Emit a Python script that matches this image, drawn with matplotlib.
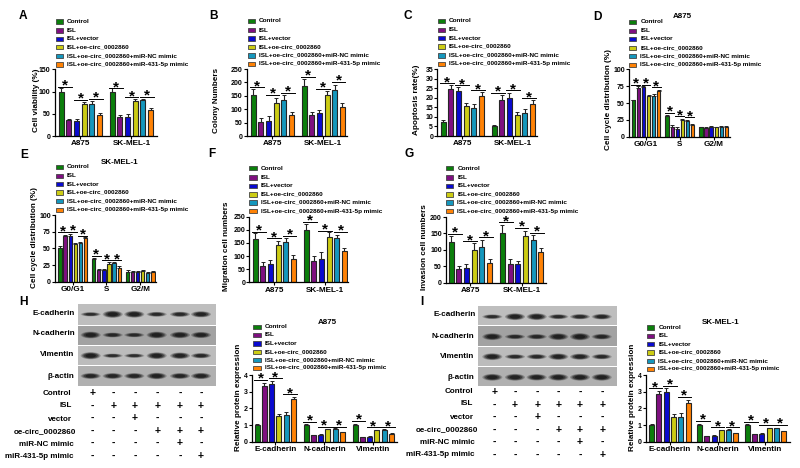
#!/usr/bin/env python3
"""
Multi-panel bar chart figure (A-I) with western blot strips.
"""

import matplotlib
matplotlib.use('Agg')
import matplotlib.pyplot as plt
from matplotlib.patches import Rectangle, Ellipse

plt.rcParams['font.family'] = ['Liberation Sans', 'DejaVu Sans']
plt.rcParams['font.weight'] = 'bold'

W, H = 800, 468

# Legend / series
series = ['Control', 'ISL', 'ISL+vector', 'ISL+oe-circ_0002860',
          'ISL+oe-circ_0002860+miR-NC mimic', 'ISL+oe-circ_0002860+miR-431-5p mimic']
colors = ['#0b7f0b', '#7f0f80', '#0a0ad0', '#cccc14', '#1597bd', '#ff8205']

cells = ['A875', 'SK-MEL-1']
phases = ['G0/G1', 'S', 'G2/M']
proteins = ['E-cadherin', 'N-cadherin', 'Vimentin']

# Values, one row per x group
a_vals = [[100, 36, 34, 73, 73, 47], [100, 43, 43, 79, 80, 59]]
a_errs = [[7, 3, 4, 4, 5, 4], [7, 5, 6, 5, 4, 3]]
a_stars = [111, 81, 83, 107, 87, 88]

b_vals = [[153, 53, 57, 123, 133, 78], [188, 78, 85, 152, 170, 108]]
b_errs = [[22, 16, 16, 20, 20, 10], [25, 10, 12, 15, 20, 14]]
b_stars = [182, 154, 162, 220, 176, 202]

c_vals = [[7.2, 24.5, 23.5, 15.5, 14.5, 21], [5, 19, 20, 11, 12, 16.5]]
c_errs = [[1, 2.2, 2, 1.5, 2, 2], [1, 2.5, 2.5, 1.3, 2, 2.2]]
c_stars = [27.6, 26.5, 23.8, 22.4, 23.8, 19.6]

d_vals = [[54, 72, 73, 60, 61, 68], [31, 15, 12, 25, 24, 17], [14, 13, 14, 14, 15, 14]]
d_errs = [[1, 3, 2, 1.5, 2, 2], [1.5, 2, 2, 1.5, 1, 2], [1, 1.5, 1.5, 1, 1.5, 1.5]]
d_stars = [77, 77, 73, 35, 30, 29]

e_vals = [[51, 68, 69, 57, 58, 65], [34, 18, 17, 27, 28, 21], [15, 14, 14, 16, 13, 14]]
e_errs = [[2, 1.5, 2, 1.5, 2, 1.5], [2, 1, 1.5, 2, 1.5, 2], [2, 2, 2, 1.5, 1, 2]]
e_stars = [74, 75, 69, 39, 32, 32]

f_vals = [[165, 63, 70, 142, 152, 88], [198, 83, 87, 173, 167, 119]]
f_errs = [[22, 15, 15, 15, 17, 15], [25, 17, 28, 18, 15, 10]]
f_stars = [193, 167, 178, 231, 197, 193]

g_vals = [[125, 41, 45, 100, 110, 60], [152, 58, 57, 143, 131, 92]]
g_errs = [[16, 10, 12, 20, 20, 12], [25, 15, 10, 15, 13, 15]]
g_stars = [149, 126, 138, 184, 168, 151]

h_vals = [[1, 3.35, 3.47, 1.52, 1.62, 2.55], [1, .38, .42, .75, .77, .57], [1, .27, .3, .68, .7, .47]]
h_errs = [[.04, .2, .2, .17, .17, .15], [.04, .04, .05, .03, .04, .04], [.05, .04, .05, .04, .04, .03]]
h_stars = [3.7, 3.8, 2.84, 1.2, .9, .9, 1.24, .86, .86]

i_vals = [[1, 2.87, 3, 1.5, 1.5, 2.35], [1, .33, .35, .68, .72, .5], [1, .45, .47, .8, .82, .64]]
i_errs = [[.05, .2, .2, .15, .2, .15], [.07, .03, .04, .04, .04, .03], [.05, .04, .04, .04, .03, .03]]
i_stars = [3.2, 3.36, 2.7, 1.24, .86, .86, 1.2, 1.0, 1.0]

# Bracket bar pairs inside one group
pairs = [(0, 1), (2, 3), (4, 5)]

# Blot tables
row_names = ['Control', 'ISL', 'vector', 'oe-circ_0002860', 'miR-NC mimic', 'miR-431-5p mimic']
signs = ['+-----', '-+++++', '--+---', '---+++', '----+-', '-----+']
blot_names = ['E-cadherin', 'N-cadherin', 'Vimentin', 'β-actin']
blot_grey = ['#bebebe', '#a2a2a2', '#bcbcbc', '#b0b0b0']
h_bands = [[.55, 1, .95, .65, .7, .85], [.95, .65, .6, .95, .9, .85],
           [1, .55, .55, .95, .9, .7], [.8, .8, .8, .9, .8, .85]]
i_bands = [[.6, .95, .95, .65, .7, .75], [.95, .65, .7, .95, 1, .75],
           [.95, .65, .7, .9, .85, .7], [.95, .95, .9, .95, .95, .95]]

fig = plt.figure(figsize=(W / 100, H / 100), dpi=100, facecolor='white')

# Full figure overlay in image pixels, for free text and the blots
ov = fig.add_axes([0, 0, 1, 1], zorder=5)
ov.set_xlim(0, W)
ov.set_ylim(H, 0)
ov.axis('off')
ov.patch.set_alpha(0)


def bar_panel(vals, errs, stars, names, box, x0, step, gap, bw, ticks, ylabel, label_x, label_y,
              leg_x, leg_ys, title=None, title_xy=None):
    left, right, top, bottom = box
    ax = fig.add_axes([left / W, 1 - bottom / H, (right - left) / W, (bottom - top) / H])
    ax.set_xlim(left, right)
    ax.set_ylim(0, ticks[-1])
    ax.patch.set_alpha(0)
    for g, (row, err) in enumerate(zip(vals, errs)):
        xs = [x0 + g * gap + i * step for i in range(6)]
        ax.bar(xs, row, width=bw, color=colors, edgecolor='#262626', linewidth=0.8, zorder=2)
        ax.errorbar(xs, row, yerr=[[0] * 6, err], fmt='none', ecolor='#222222',
                    elinewidth=0.8, capsize=1.2, capthick=0.7, zorder=1)
    n = 0
    for g in range(len(vals)):
        for a, b in pairs:
            if n >= len(stars):
                break
            xa = x0 + g * gap + a * step - bw * 0.6
            xb = x0 + g * gap + b * step + bw * 0.6
            ax.plot([xa, xb], [stars[n], stars[n]], color='black', lw=0.7, clip_on=False)
            ax.annotate('*', xy=((xa + xb) / 2, stars[n]), xytext=(0, -4.2), textcoords='offset points',
                        ha='center', va='bottom', fontsize=11, annotation_clip=False)
            n += 1
    ax.set_yticks(ticks)
    ax.set_xticks([x0 + g * gap + 2.5 * step for g in range(len(vals))])
    ax.set_xticklabels(names, fontsize=5.9)
    ax.tick_params(axis='y', labelsize=5.0, length=2, width=0.8, pad=1)
    ax.tick_params(axis='x', length=2, width=0.8, pad=1.2)
    for s in ['top', 'right']:
        ax.spines[s].set_visible(False)
    for s in ['left', 'bottom']:
        ax.spines[s].set_linewidth(0.9)
    ov.text(label_x, label_y, ylabel, rotation=90, ha='center', va='center', fontsize=5.9)
    for name, c, y in zip(series, colors, leg_ys):
        ov.add_patch(Rectangle((leg_x, y - 2.2), 7.4, 4.4, facecolor=c, edgecolor='#444444', lw=0.6))
        ov.text(leg_x + 11.3, y, name, ha='left', va='center', fontsize=4.55)
    if title:
        ov.text(title_xy[0], title_xy[1], title, ha='center', va='center', fontsize=5.8)


def blot_table(strips_x, rows_y, bands, band_x, band_y, name_rx, name_y, row_rx, row_y, col_x, sign_y):
    for n, (y0, y1) in enumerate(rows_y):
        ov.add_patch(Rectangle((strips_x[0], y0), strips_x[1] - strips_x[0], y1 - y0,
                               facecolor=blot_grey[n], edgecolor='none'))
        for bx, k in zip(band_x, bands[n]):
            # soft band, stacked ellipses
            for f, al in [(1.0, .25), (.85, .35), (.7, .5), (.5, .7)]:
                ov.add_patch(Ellipse((bx, band_y[n]), 19 * f + 1, 6.5 * k * f + .6, facecolor='#151515',
                                     edgecolor='none', alpha=al * (.6 + .4 * k)))
        ov.text(name_rx[n], name_y[n], blot_names[n], ha='right', va='center', fontsize=5.9)
    for n, name in enumerate(row_names):
        ov.text(row_rx[n], row_y[n], name, ha='right', va='center', fontsize=5.8)
        for cx, s in zip(col_x, signs[n]):
            ov.text(cx, sign_y[n], s, ha='center', va='center', fontsize=7.5)


bar_panel(a_vals, a_errs, a_stars, cells, (54.7, 157, 69.3, 136), 61.3, 7.67, 51, 5, [0, 50, 100, 150],
          'Cell viability (%)', 36, 100, 55.7, [21.3, 30.3, 38.7, 47, 55.7, 64.3])
bar_panel(b_vals, b_errs, b_stars, cells, (246.7, 346.7, 69, 136), 253.3, 7.67, 50.7, 5,
          [0, 50, 100, 150, 200, 250], 'Colony Numbers', 216.7, 100, 247.7,
          [20.7, 30, 38.3, 47, 55.3, 64])
bar_panel(c_vals, c_errs, c_stars, cells, (437.3, 536.7, 69, 136), 443, 7.7, 51, 5,
          [0, 5, 10, 15, 20, 25, 30, 35], 'Apoptosis rate(%)', 416, 100, 437.7,
          [20.7, 29.7, 38, 46.3, 55.3, 64])
bar_panel(d_vals, d_errs, d_stars, phases, (629, 730, 69.3, 136.7), 633.3, 5.07, 33.8, 3.2,
          [0, 25, 50, 75, 100], 'Cell cycle distribution (%)', 608, 99.5, 629,
          [21.7, 30.7, 39, 48, 56, 64.7], 'A875', (682, 16))
bar_panel(e_vals, e_errs, e_stars, phases, (55, 156, 215, 281.7), 60, 5.07, 33.8, 3.2,
          [0, 25, 50, 75, 100], 'Cell cycle distribution (%)', 35, 238, 55.7,
          [166.7, 175.7, 184, 192.3, 201, 209.7], 'SK-MEL-1', (120, 162))
bar_panel(f_vals, f_errs, f_stars, cells, (249.3, 348, 216.7, 282.3), 255, 7.67, 51, 5,
          [0, 50, 100, 150, 200, 250], 'Migration cell numbers', 226.7, 246.7, 249.3,
          [168, 177.3, 185.7, 194.3, 202.3, 211])
bar_panel(g_vals, g_errs, g_stars, cells, (446, 545.7, 217, 282.7), 451, 7.73, 51.3, 5,
          [0, 50, 100, 150, 200], 'Invasion cell numbers', 425, 247, 446,
          [168, 177.3, 185.7, 194.3, 202.3, 211])
bar_panel(h_vals, h_errs, h_stars, proteins, (251.7, 396.7, 375, 441.7), 257, 7.33, 49, 5,
          [0, 1, 2, 3, 4], 'Relative protein expression', 238.3, 397, 253.3,
          [326.7, 335, 343.3, 351.7, 360, 368], 'A875', (327.7, 323))
bar_panel(i_vals, i_errs, i_stars, proteins, (645.7, 790, 375, 441.7), 651.7, 7.27, 47.8, 5,
          [0, 1, 2, 3, 4], 'Relative protein expression', 633, 397, 647,
          [327.3, 335.7, 344, 352.3, 360.7, 368.7], 'SK-MEL-1', (721, 323))

blot_table((78, 216), [(304.3, 325), (326, 345), (346, 365), (366, 385.7)], h_bands,
           [90.7, 112.7, 134.3, 156.7, 180, 201], [314.3, 335, 355.7, 376],
           [74.7, 75, 74.3, 74.3], [313.3, 333.3, 354.3, 376.7],
           [71.7, 71.7, 72.3, 76, 73.3, 73.3], [393.3, 405.7, 419.3, 432, 444, 456],
           [92.3, 113.3, 135, 157.7, 180, 201], [393.3, 405.7, 418.3, 431, 443.3, 456])
blot_table((478.3, 617.3), [(305.7, 325), (326.3, 345.7), (347, 366), (367, 385.7)], i_bands,
           [492.3, 515, 536.7, 558.3, 580, 601.7], [316.7, 336.7, 356.7, 377.3],
           [475.3, 474.3, 474.3, 474.3], [315, 336, 356, 377.3],
           [473.3, 473.3, 474, 477.7, 475, 475], [391.3, 403.3, 417.3, 430, 442.3, 454],
           [494.7, 515, 537.3, 558.7, 580, 602.3], [392.3, 405.3, 417.3, 430, 442.3, 455])

# Panel letters
letters = ['A', 'B', 'C', 'D', 'E', 'F', 'G', 'H', 'I']
letter_x = [23, 213, 408, 597, 24, 212, 409, 24, 422]
letter_y = [16, 16, 16, 17, 154.5, 154, 154, 302, 302]
for t, x, y in zip(letters, letter_x, letter_y):
    ov.text(x, y, t, ha='center', va='center', fontsize=8.6)

fig.savefig('out.png', dpi=100, facecolor='white')
